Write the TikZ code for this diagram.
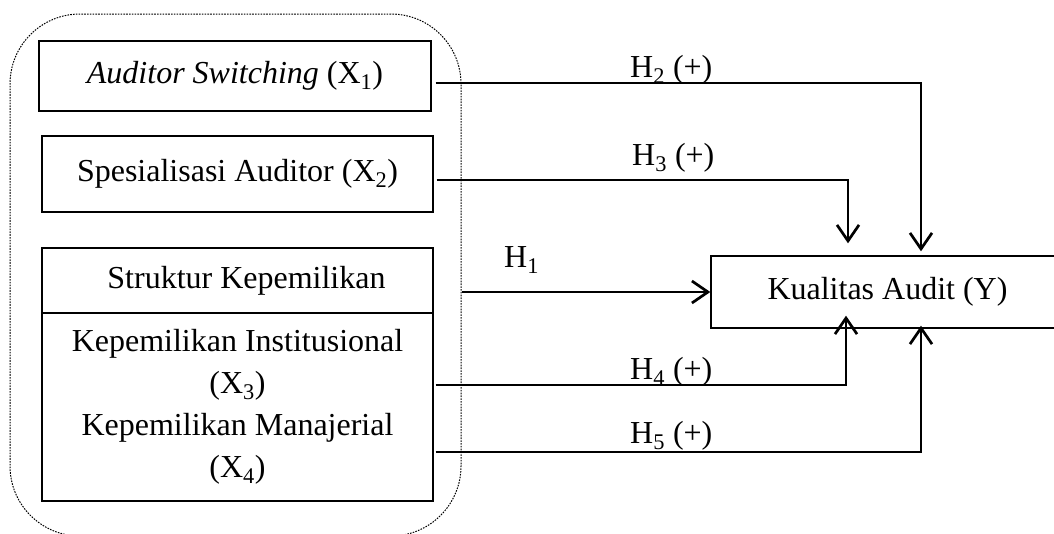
\documentclass[tikz,border=0pt]{standalone}
\usepackage{fontspec}
\setmainfont{Liberation Serif}
\usetikzlibrary{arrows.meta}

\begin{document}
\begin{tikzpicture}[x=1pt,y=-1pt,font=\fontsize{32}{42}\selectfont,
  varbox/.style={draw,line width=1.4pt,inner sep=0pt,align=center,minimum width=391pt},
  conn/.style={line width=2.7pt,-{Straight Barb[length=16pt,width=22pt,line width=2.7pt]}},
  hlab/.style={anchor=base west,inner sep=0pt}]
\useasboundingbox (0,0) rectangle (1054,533);
% group of independent variables
\node[draw,line width=1pt,dash pattern=on 1.6pt off 1.2pt,rounded corners=70pt,
  minimum width=451pt,minimum height=522pt] (grp) at (235.5,275) {};
\node[varbox,minimum width=392pt,minimum height=70pt] (x1) at (235,76) {\textit{Auditor Switching} (X\textsubscript{1})};
\node[varbox,minimum height=76pt] (x2) at (237.5,174) {Spesialisasi Auditor (X\textsubscript{2})};
\node[varbox,minimum height=65pt] (sk) at (237.5,280.5) {\hspace*{18pt}Struktur Kepemilikan};
\node[varbox,minimum height=188pt] (x34) at (237.5,407) {Kepemilikan Institusional\\(X\textsubscript{3})\\Kepemilikan Manajerial\\(X\textsubscript{4})};
\node[draw,line width=1.4pt,inner sep=0pt,minimum width=353pt,minimum height=72pt] (ka) at (887.5,292) {Kualitas Audit (Y)};
% hypotheses
\draw[conn] ([xshift=4pt,yshift=-7pt]x1.east) -| ([xshift=33.5pt,yshift=4pt]ka.north);
\draw[conn] ([xshift=3pt,yshift=-6pt]x2.east) -| ([xshift=-39.5pt,yshift=12pt]ka.north);
\draw[conn,line width=2pt] (grp.east |- ka.west) -- (ka.west);
\draw[conn] ([xshift=2pt,yshift=22pt]x34.east) -| ([xshift=-41.5pt,yshift=13pt]ka.south);
\draw[conn] ([xshift=2pt,yshift=-45pt]x34.east) -| ([xshift=33.5pt,yshift=3pt]ka.south);
\node[hlab] (h2) at (630,77) {H\textsubscript{2} (+)};
\node[hlab] (h3) at (632,165) {H\textsubscript{3} (+)};
\node[hlab] (h1) at (504,267) {H\textsubscript{1}};
\node[hlab] (h4) at (630,379) {H\textsubscript{4} (+)};
\node[hlab] (h5) at (630,443) {H\textsubscript{5} (+)};
\end{tikzpicture}
\end{document}
